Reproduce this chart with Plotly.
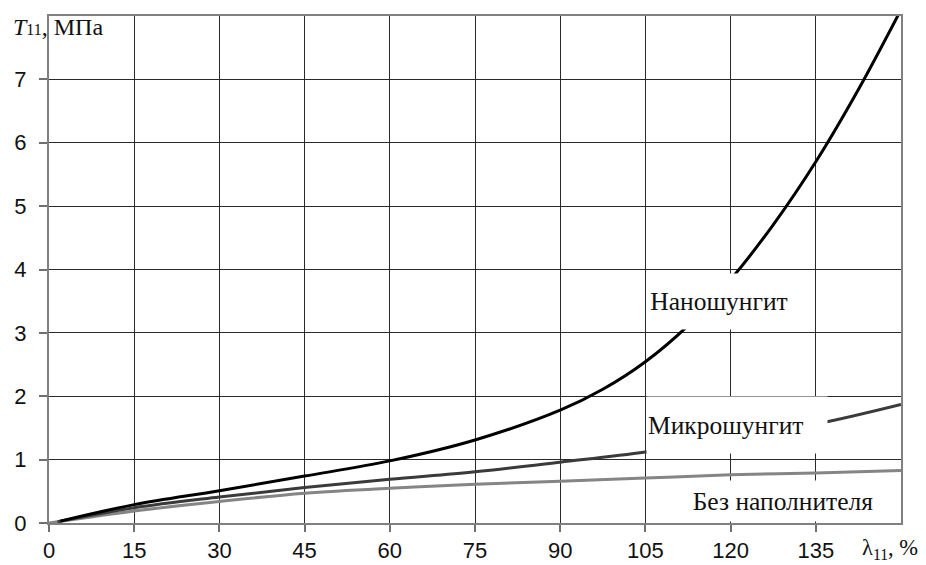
import plotly.graph_objects as go

# Data
x_nano = [2, 15, 30, 45, 60, 75, 90, 97.5, 105, 112.5, 120, 127.5, 135, 142.5, 150]
y_nano = [0.03, 0.29, 0.51, 0.74, 0.98, 1.31, 1.78, 2.11, 2.545, 3.115, 3.84, 4.705, 5.70, 6.84, 8.10]

x_micro = [1.5, 15, 30, 45, 60, 75, 90, 105, 120, 135, 150]
y_micro = [0.02, 0.24, 0.41, 0.56, 0.69, 0.81, 0.96, 1.12, 1.34, 1.56, 1.87]

x_base = [0, 15, 30, 45, 60, 75, 90, 105, 120, 135, 150]
y_base = [0.0, 0.19, 0.34, 0.47, 0.55, 0.61, 0.66, 0.71, 0.76, 0.79, 0.83]

x_ticks = [0, 15, 30, 45, 60, 75, 90, 105, 120, 135]
y_ticks = [0, 1, 2, 3, 4, 5, 6, 7]

labels = ["Наношунгит", "Микрошунгит", "Без наполнителя"]

SERIF = "Liberation Serif, Times New Roman, serif"
SANS = "Liberation Sans, Arial, sans-serif"

fig = go.Figure()
fig.add_trace(go.Scatter(x=x_base, y=y_base, mode="lines",
                         line=dict(color="#858585", width=3, shape="spline", smoothing=1),
                         showlegend=False, hoverinfo="skip"))
fig.add_trace(go.Scatter(x=x_micro, y=y_micro, mode="lines",
                         line=dict(color="#3a3a3a", width=3, shape="spline", smoothing=1),
                         showlegend=False, hoverinfo="skip"))
fig.add_trace(go.Scatter(x=x_nano, y=y_nano, mode="lines",
                         line=dict(color="#000000", width=3, shape="spline", smoothing=1),
                         showlegend=False, hoverinfo="skip"))

# page body adds an 8px offset, so the figure is 8px smaller and margins compensate
fig.update_layout(
    width=918, height=557,
    margin=dict(l=41, r=25, t=8, b=42, autoexpand=False),
    paper_bgcolor="white", plot_bgcolor="white",
    xaxis=dict(range=[0, 150], tickvals=x_ticks, ticktext=[str(v) for v in x_ticks],
               showgrid=True, gridcolor="#2a2a2a", gridwidth=1, zeroline=False,
               showline=True, linecolor="#808080", linewidth=2, mirror=True,
               ticks="outside", ticklen=7, tickcolor="#707070", tickwidth=1.5,
               tickfont=dict(family=SANS, size=22, color="#111"),
               automargin=False),
    yaxis=dict(range=[0, 8], tickvals=y_ticks, ticktext=[str(v) for v in y_ticks],
               showgrid=True, gridcolor="#2a2a2a", gridwidth=1, zeroline=False,
               showline=True, linecolor="#808080", linewidth=2, mirror=True,
               ticks="outside", ticklen=8, tickcolor="#707070", tickwidth=1.5,
               tickfont=dict(family=SANS, size=22, color="#111"),
               ticklabelstandoff=8, automargin=False),
)

# white patch where the y-axis title sits (hides top-left frame part)
fig.add_shape(type="rect", xref="x", yref="y", x0=-3, x1=14.7, y0=7.46, y1=8.2,
              fillcolor="white", line=dict(width=0), layer="above")

fig.add_annotation(xref="paper", yref="paper", x=-38 / 852, y=(507 - 11) / 507,
                   xanchor="left", yanchor="middle", showarrow=False,
                   text="<i>T</i><span style='font-size:16px'>11</span>, МПа",
                   font=dict(family=SERIF, size=24, color="#111"))
fig.add_annotation(xref="paper", yref="paper", x=(860 - 49) / 852, y=(523.3 - 549) / 507,
                   xanchor="left", yanchor="middle", showarrow=False,
                   text="λ<sub>11</sub>, %",
                   font=dict(family=SERIF, size=22.5, color="#111"))

# curve labels with white boxes
fig.add_annotation(x=118.0, y=3.50, xref="x", yref="y", showarrow=False,
                   text=labels[0], width=142, height=53, bgcolor="white",
                   borderpad=1, align="center", valign="middle",
                   font=dict(family=SERIF, size=25.5, color="#111"))
fig.add_annotation(x=121.2, y=1.55, xref="x", yref="y", showarrow=False,
                   text=labels[1], width=178, height=54, bgcolor="white",
                   borderpad=1, align="left", valign="middle",
                   font=dict(family=SERIF, size=25.5, color="#111"))
fig.add_annotation(x=129.3, y=0.34, xref="x", yref="y", showarrow=False,
                   text=labels[2], width=212, height=38, bgcolor="white",
                   borderpad=1, align="center", valign="middle",
                   font=dict(family=SERIF, size=25.5, color="#111"))

fig.write_html("out.html")
